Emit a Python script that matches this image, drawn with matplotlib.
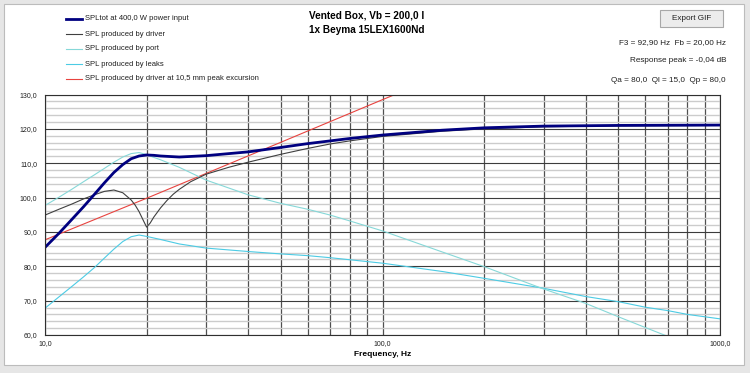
import matplotlib
matplotlib.use("Agg")
import matplotlib.pyplot as plt
from matplotlib.lines import Line2D
from matplotlib.patches import Rectangle
from matplotlib.ticker import FixedLocator, NullFormatter

plt.rcParams['font.family'] = ['Liberation Sans', 'DejaVu Sans']

# --- data (frequency in Hz, level in dB) ---
f_total = [10, 11, 12, 13, 14, 15, 16, 17, 18, 19, 20, 21, 22, 25, 30, 40, 50,
           60, 70, 80, 100, 150, 200, 300, 500, 1000]
spl_total = [85.5, 89.6, 93.6, 97.3, 100.9, 104.3, 107.3, 109.6, 111.3, 112.1,
             112.4, 112.3, 112.1, 111.8, 112.2, 113.3, 114.6, 115.7, 116.5,
             117.2, 118.2, 119.6, 120.3, 120.8, 121.0, 121.1]

f_driver = [10, 11, 12, 13, 14, 15, 16, 17, 18, 18.5, 19, 19.5, 20, 20.5, 21,
            22, 23, 24, 25, 27, 30, 35, 40, 50, 60, 70, 80, 100, 150, 200,
            300, 500, 1000]
spl_driver = [94.9, 96.6, 98.1, 99.6, 100.8, 101.8, 102.2, 101.4, 99.3, 97.8,
              95.9, 93.6, 91.4, 92.6, 94.3, 97.0, 99.2, 101.0, 102.4, 104.6,
              106.8, 108.8, 110.3, 112.6, 114.3, 115.6, 116.5, 117.8, 119.3,
              120.0, 120.6, 120.9, 121.0]

f_port = [10, 11, 12, 13, 14, 15, 16, 17, 18, 19, 20, 21, 22, 25, 30, 35, 40,
          50, 60, 70, 80, 100, 150, 200, 300, 400, 500, 600, 700, 800]
spl_port = [97.7, 100.1, 102.4, 104.6, 106.6, 108.5, 110.3, 111.8, 112.8, 113.1,
            112.5, 111.7, 111.0, 108.8, 105.1, 102.8, 100.8, 98.3, 96.6, 94.9,
            93.2, 90.3, 84.2, 79.9, 73.4, 69.2, 65.3, 62.2, 59.6, 57.2]

f_leaks = [10, 11, 12, 13, 14, 15, 16, 17, 18, 19, 20, 22, 25, 30, 40, 50, 60,
           70, 100, 150, 200, 300, 400, 500, 600, 700, 800, 1000]
spl_leaks = [67.8, 71.1, 74.1, 76.9, 79.6, 82.4, 85.0, 87.2, 88.6, 89.1, 88.7,
             87.8, 86.5, 85.3, 84.3, 83.6, 83.1, 82.5, 80.9, 78.5, 76.5, 73.6,
             71.2, 69.7, 68.1, 67.1, 66.0, 64.7]

f_excursion = [10, 20, 50, 100, 120]
spl_excursion = [87.7, 99.8, 116.1, 128.5, 131.7]

legend_labels = ["SPLtot at 400,0 W power input",
                 "SPL produced by driver",
                 "SPL produced by port",
                 "SPL produced by leaks",
                 "SPL produced by driver at 10,5 mm peak excursion"]
info_lines = ["F3 = 92,90 Hz  Fb = 20,00 Hz",
              "Response peak = -0,04 dB",
              "Qa = 80,0  Ql = 15,0  Qp = 80,0"]
title_lines = ["Vented Box, Vb = 200,0 l", "1x Beyma 15LEX1600Nd"]

W, H = 750, 373


def fx(x):
    return x / W


def fy(y):
    return 1 - y / H


fig = plt.figure(figsize=(7.5, 3.73), dpi=100)
fig.patch.set_facecolor('#e6e6e6')
fig.add_artist(Rectangle((fx(4), fy(365)), 740 / W, 361 / H,
                         transform=fig.transFigure, facecolor='white',
                         edgecolor='#bcbcbc', lw=0.8, zorder=-1))

ax = fig.add_axes([fx(45), fy(335), 675 / W, 240.5 / H])
ax.set_xscale('log')
ax.set_xlim(10, 1000)
ax.set_ylim(60, 130)

colors = ['#000080', '#404040', '#86d8d8', '#4ccbe4', '#e8433f']
widths = [2.0, 0.8, 0.8, 0.8, 0.8]

ax.plot(f_excursion, spl_excursion, color=colors[4], lw=widths[4])
ax.plot(f_leaks, spl_leaks, color=colors[3], lw=widths[3])
ax.plot(f_port, spl_port, color=colors[2], lw=widths[2])
ax.plot(f_driver, spl_driver, color=colors[1], lw=widths[1])
ax.plot(f_total, spl_total, color=colors[0], lw=widths[0])

# grid
ax.set_yticks(range(60, 131, 10))
ax.set_yticklabels([f"{v},0" for v in range(60, 131, 10)])
ax.yaxis.set_minor_locator(FixedLocator([v for v in range(60, 131, 2)
                                         if v % 10]))
ax.set_xticks([10, 100, 1000])
ax.set_xticklabels(["10,0", "100,0", "1000,0"])
ax.xaxis.set_minor_locator(FixedLocator([m * d for d in (10, 100)
                                         for m in range(2, 10)]))
ax.xaxis.set_minor_formatter(NullFormatter())
ax.grid(which='major', axis='y', color='#3c3c3c', lw=0.8)
ax.grid(which='minor', axis='y', color='#cccccc', lw=1.0)
ax.grid(which='both', axis='x', color='#505050', lw=0.9)
ax.set_axisbelow(True)
ax.tick_params(which='both', length=0, labelsize=5, colors='#202020')
ax.tick_params(axis='y', pad=5.5)
ax.tick_params(axis='x', pad=3.5)
for s in ax.spines.values():
    s.set_color('#303030')
    s.set_linewidth(0.8)

ax.set_xlabel("Frequency, Hz", fontsize=6, fontweight='bold', labelpad=3)

# legend drawn by hand
rows = [19, 34, 49, 64, 79]
for lab, c, lw, y in zip(legend_labels, colors, widths, rows):
    fig.add_artist(Line2D([fx(66), fx(82)], [fy(y), fy(y)], color=c, lw=lw,
                          transform=fig.transFigure))
    fig.text(fx(85), fy(y), lab, fontsize=5.5, va='center', ha='left',
             color='#202020')

fig.text(fx(309), fy(16), title_lines[0], fontsize=7.2, fontweight='bold',
         va='center', ha='left')
fig.text(fx(309), fy(30), title_lines[1], fontsize=7.2, fontweight='bold',
         va='center', ha='left')

for txt, y in zip(info_lines, [43, 61, 80]):
    fig.text(fx(726), fy(y), txt, fontsize=5.9, va='center', ha='right',
             color='#202020')

# export button
fig.add_artist(Rectangle((fx(660), fy(27)), 63 / W, 17 / H,
                         transform=fig.transFigure, facecolor='#ececec',
                         edgecolor='#a8a8a8', lw=0.8))
fig.text(fx(691.5), fy(18.5), "Export GIF", fontsize=5.9, va='center',
         ha='center', color='#202020')

fig.savefig("out.png", dpi=100, facecolor=fig.get_facecolor())
